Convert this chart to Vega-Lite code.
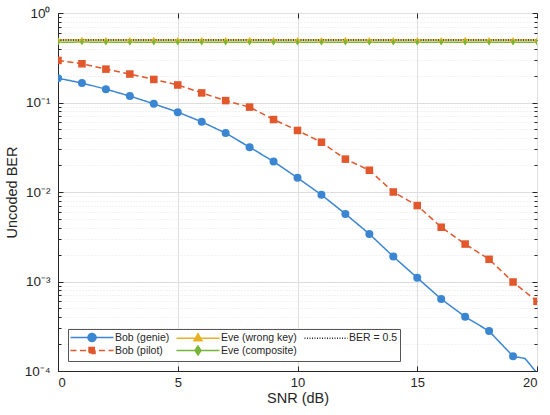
{
  "$schema": "https://vega.github.io/schema/vega-lite/v6.json",
  "width": 479,
  "height": 358,
  "autosize": "none",
  "padding": {"left": 58, "top": 13, "right": 13, "bottom": 44},
  "data": {
    "values": [
      {"snr": 0, "ber": 0.187, "series": "Bob (genie)"},
      {"snr": 1, "ber": 0.165, "series": "Bob (genie)"},
      {"snr": 2, "ber": 0.141, "series": "Bob (genie)"},
      {"snr": 3, "ber": 0.118, "series": "Bob (genie)"},
      {"snr": 4, "ber": 0.0967, "series": "Bob (genie)"},
      {"snr": 5, "ber": 0.078, "series": "Bob (genie)"},
      {"snr": 6, "ber": 0.0608, "series": "Bob (genie)"},
      {"snr": 7, "ber": 0.0455, "series": "Bob (genie)"},
      {"snr": 8, "ber": 0.0317, "series": "Bob (genie)"},
      {"snr": 9, "ber": 0.0219, "series": "Bob (genie)"},
      {"snr": 10, "ber": 0.0144, "series": "Bob (genie)"},
      {"snr": 11, "ber": 0.0093, "series": "Bob (genie)"},
      {"snr": 12, "ber": 0.00569, "series": "Bob (genie)"},
      {"snr": 13, "ber": 0.0034, "series": "Bob (genie)"},
      {"snr": 14, "ber": 0.0019, "series": "Bob (genie)"},
      {"snr": 15, "ber": 0.0011, "series": "Bob (genie)"},
      {"snr": 16, "ber": 0.000637, "series": "Bob (genie)"},
      {"snr": 17, "ber": 0.000404, "series": "Bob (genie)"},
      {"snr": 18, "ber": 0.000279, "series": "Bob (genie)"},
      {"snr": 19, "ber": 0.000146, "series": "Bob (genie)"},
      {"snr": 19.5, "ber": 0.000138, "series": "Bob (genie)"},
      {"snr": 20, "ber": 0.000095, "series": "Bob (genie)"},
      {"snr": 0, "ber": 0.295, "series": "Bob (pilot)"},
      {"snr": 1, "ber": 0.271, "series": "Bob (pilot)"},
      {"snr": 2, "ber": 0.236, "series": "Bob (pilot)"},
      {"snr": 3, "ber": 0.208, "series": "Bob (pilot)"},
      {"snr": 4, "ber": 0.181, "series": "Bob (pilot)"},
      {"snr": 5, "ber": 0.157, "series": "Bob (pilot)"},
      {"snr": 6, "ber": 0.128, "series": "Bob (pilot)"},
      {"snr": 7, "ber": 0.105, "series": "Bob (pilot)"},
      {"snr": 8, "ber": 0.0888, "series": "Bob (pilot)"},
      {"snr": 9, "ber": 0.0645, "series": "Bob (pilot)"},
      {"snr": 10, "ber": 0.0487, "series": "Bob (pilot)"},
      {"snr": 11, "ber": 0.036, "series": "Bob (pilot)"},
      {"snr": 12, "ber": 0.0233, "series": "Bob (pilot)"},
      {"snr": 13, "ber": 0.0175, "series": "Bob (pilot)"},
      {"snr": 14, "ber": 0.01, "series": "Bob (pilot)"},
      {"snr": 15, "ber": 0.00705, "series": "Bob (pilot)"},
      {"snr": 16, "ber": 0.00404, "series": "Bob (pilot)"},
      {"snr": 17, "ber": 0.00262, "series": "Bob (pilot)"},
      {"snr": 18, "ber": 0.00177, "series": "Bob (pilot)"},
      {"snr": 19, "ber": 0.000987, "series": "Bob (pilot)"},
      {"snr": 20, "ber": 0.0006, "series": "Bob (pilot)"},
      {"snr": 0, "ber": 0.499, "series": "Eve (wrong key)"},
      {"snr": 1, "ber": 0.501, "series": "Eve (wrong key)"},
      {"snr": 2, "ber": 0.5, "series": "Eve (wrong key)"},
      {"snr": 3, "ber": 0.499, "series": "Eve (wrong key)"},
      {"snr": 4, "ber": 0.501, "series": "Eve (wrong key)"},
      {"snr": 5, "ber": 0.5, "series": "Eve (wrong key)"},
      {"snr": 6, "ber": 0.499, "series": "Eve (wrong key)"},
      {"snr": 7, "ber": 0.5, "series": "Eve (wrong key)"},
      {"snr": 8, "ber": 0.501, "series": "Eve (wrong key)"},
      {"snr": 9, "ber": 0.499, "series": "Eve (wrong key)"},
      {"snr": 10, "ber": 0.5, "series": "Eve (wrong key)"},
      {"snr": 11, "ber": 0.5, "series": "Eve (wrong key)"},
      {"snr": 12, "ber": 0.501, "series": "Eve (wrong key)"},
      {"snr": 13, "ber": 0.499, "series": "Eve (wrong key)"},
      {"snr": 14, "ber": 0.5, "series": "Eve (wrong key)"},
      {"snr": 15, "ber": 0.5, "series": "Eve (wrong key)"},
      {"snr": 16, "ber": 0.499, "series": "Eve (wrong key)"},
      {"snr": 17, "ber": 0.501, "series": "Eve (wrong key)"},
      {"snr": 18, "ber": 0.5, "series": "Eve (wrong key)"},
      {"snr": 19, "ber": 0.5, "series": "Eve (wrong key)"},
      {"snr": 20, "ber": 0.499, "series": "Eve (wrong key)"},
      {"snr": 0, "ber": 0.472, "series": "Eve (composite)"},
      {"snr": 1, "ber": 0.473, "series": "Eve (composite)"},
      {"snr": 2, "ber": 0.472, "series": "Eve (composite)"},
      {"snr": 3, "ber": 0.471, "series": "Eve (composite)"},
      {"snr": 4, "ber": 0.472, "series": "Eve (composite)"},
      {"snr": 5, "ber": 0.471, "series": "Eve (composite)"},
      {"snr": 6, "ber": 0.472, "series": "Eve (composite)"},
      {"snr": 7, "ber": 0.472, "series": "Eve (composite)"},
      {"snr": 8, "ber": 0.471, "series": "Eve (composite)"},
      {"snr": 9, "ber": 0.472, "series": "Eve (composite)"},
      {"snr": 10, "ber": 0.472, "series": "Eve (composite)"},
      {"snr": 11, "ber": 0.471, "series": "Eve (composite)"},
      {"snr": 12, "ber": 0.472, "series": "Eve (composite)"},
      {"snr": 13, "ber": 0.472, "series": "Eve (composite)"},
      {"snr": 14, "ber": 0.471, "series": "Eve (composite)"},
      {"snr": 15, "ber": 0.472, "series": "Eve (composite)"},
      {"snr": 16, "ber": 0.472, "series": "Eve (composite)"},
      {"snr": 17, "ber": 0.471, "series": "Eve (composite)"},
      {"snr": 18, "ber": 0.472, "series": "Eve (composite)"},
      {"snr": 19, "ber": 0.472, "series": "Eve (composite)"},
      {"snr": 20, "ber": 0.471, "series": "Eve (composite)"},
      {"snr": 0, "ber": 0.5, "series": "BER = 0.5"},
      {"snr": 20, "ber": 0.5, "series": "BER = 0.5"}
    ]
  },
  "layer": [
    {
      "mark": {"type": "line", "strokeWidth": 1.5, "clip": true},
      "encoding": {
        "x": {
          "field": "snr", "type": "quantitative",
          "scale": {"domain": [0, 20], "nice": false, "zero": false},
          "axis": {
            "orient": "bottom", "title": "SNR (dB)", "values": [0, 5, 10, 15, 20],
            "grid": true, "gridColor": "#dedede", "tickSize": -5, "labelPadding": 10,
            "titlePadding": 2, "domain": true
          }
        },
        "y": {
          "field": "ber", "type": "quantitative",
          "scale": {"type": "log", "domain": [0.0001, 1], "nice": false},
          "axis": {
            "orient": "left", "title": "Uncoded BER",
            "values": [0.0001, 0.0002, 0.0003, 0.0004, 0.0005, 0.0006, 0.0007, 0.0008, 0.0009,
                       0.001, 0.002, 0.003, 0.004, 0.005, 0.006, 0.007, 0.008, 0.009,
                       0.01, 0.02, 0.03, 0.04, 0.05, 0.06, 0.07, 0.08, 0.09,
                       0.1, 0.2, 0.3, 0.4, 0.5, 0.6, 0.7, 0.8, 0.9, 1],
            "labelExpr": "abs(log(datum.value)/LN10 - round(log(datum.value)/LN10)) > 0.001 ? '' : ['10⁻⁴','10⁻³','10⁻²','10⁻¹','10⁰'][round(log(datum.value)/LN10) + 4]",
            "labelOverlap": false, "labelPadding": 13, "labelFontSize": 13.5,
            "grid": true,
            "gridColor": {"condition": {"test": "abs(log(datum.value)/LN10 - round(log(datum.value)/LN10)) > 0.001", "value": "#e4e4e4"}, "value": "#dedede"},
            "gridDash": {"condition": {"test": "abs(log(datum.value)/LN10 - round(log(datum.value)/LN10)) > 0.001", "value": [1, 2]}, "value": []},
            "tickSize": {"condition": {"test": "abs(log(datum.value)/LN10 - round(log(datum.value)/LN10)) > 0.001", "value": -3}, "value": -5},
            "titlePadding": 5
          }
        },
        "color": {
          "field": "series", "type": "nominal",
          "scale": {
            "domain": ["Bob (genie)", "Bob (pilot)", "Eve (wrong key)", "Eve (composite)", "BER = 0.5"],
            "range": ["#3b86d3", "#e2572b", "#e6b224", "#77b53a", "#262626"]
          },
          "legend": {
            "title": null, "orient": "bottom-left", "offset": 10, "columns": 3,
            "gridAlign": "each",
            "columnPadding": 4, "rowPadding": -5, "padding": 2.5,
            "symbolSize": 100, "symbolOffset": 15.5, "labelOffset": 17,
            "labelFontSize": 10.5, "labelColor": "#262626", "labelLimit": 200,
            "fillColor": "white", "strokeColor": "#555555",
            "encode": {
              "symbols": {
                "update": {
                  "shape": {"signal": "datum.value == 'Bob (genie)' ? 'M-4.3,0H4.3M0.8,0A0.8,0.8,0,1,1,-0.8,0A0.8,0.8,0,1,1,0.8,0Z' : datum.value == 'Bob (pilot)' ? 'M-4.3,0H4.3M-0.6,-0.6H0.6V0.6H-0.6Z' : datum.value == 'Eve (wrong key)' ? 'M-4.3,0H4.3M0,-0.9L0.8,0.5H-0.8Z' : datum.value == 'Eve (composite)' ? 'M-4.3,0H4.3M0,-0.9L0.6,0L0,0.9L-0.6,0Z' : 'M-4.3,0H4.3'"},
                  "strokeDash": {"signal": "datum.value == 'Bob (pilot)' ? [6, 3.5] : datum.value == 'BER = 0.5' ? [1, 1.5] : []"},
                  "fill": {"signal": "datum.value == 'BER = 0.5' ? 'transparent' : scale('color', datum.value)"},
                  "stroke": {"signal": "scale('color', datum.value)"},
                  "strokeWidth": {"value": 1.5},
                  "opacity": {"value": 1}
                }
              }
            }
          }
        },
        "strokeDash": {
          "field": "series", "type": "nominal",
          "scale": {
            "domain": ["Bob (genie)", "Bob (pilot)", "Eve (wrong key)", "Eve (composite)", "BER = 0.5"],
            "range": [[1, 0], [6, 3.5], [1, 0], [1, 0], [1, 1.5]]
          },
          "legend": null
        }
      }
    },
    {
      "transform": [
        {"filter": "datum.series != 'BER = 0.5' && datum.snr % 1 == 0 && datum.ber >= 0.0001"}
      ],
      "mark": {"type": "point", "filled": true, "opacity": 1, "clip": true},
      "encoding": {
        "x": {
          "field": "snr", "type": "quantitative",
          "axis": {"orient": "top", "title": null, "labels": false, "grid": false, "values": [0, 5, 10, 15, 20], "tickSize": -5, "domain": false}
        },
        "y": {
          "field": "ber", "type": "quantitative",
          "axis": {
            "orient": "right", "title": null, "labels": false, "grid": false, "domain": false,
            "values": [0.0001, 0.0002, 0.0003, 0.0004, 0.0005, 0.0006, 0.0007, 0.0008, 0.0009,
                       0.001, 0.002, 0.003, 0.004, 0.005, 0.006, 0.007, 0.008, 0.009,
                       0.01, 0.02, 0.03, 0.04, 0.05, 0.06, 0.07, 0.08, 0.09,
                       0.1, 0.2, 0.3, 0.4, 0.5, 0.6, 0.7, 0.8, 0.9, 1],
            "tickSize": {"condition": {"test": "abs(log(datum.value)/LN10 - round(log(datum.value)/LN10)) > 0.001", "value": -3}, "value": -5}
          }
        },
        "color": {"field": "series", "type": "nominal"},
        "shape": {
          "field": "series", "type": "nominal",
          "scale": {
            "domain": ["Bob (genie)", "Bob (pilot)", "Eve (wrong key)", "Eve (composite)"],
            "range": ["circle", "square", "triangle-up", "M0,-1L0.65,0L0,1L-0.65,0Z"]
          },
          "legend": null
        },
        "size": {
          "field": "series", "type": "nominal",
          "scale": {
            "domain": ["Bob (genie)", "Bob (pilot)", "Eve (wrong key)", "Eve (composite)"],
            "range": [64, 42, 55, 85]
          },
          "legend": null
        }
      }
    }
  ],
  "resolve": {"axis": {"x": "independent", "y": "independent"}},
  "config": {
    "font": "Liberation Sans",
    "view": {"stroke": "#262626", "strokeWidth": 1},
    "axis": {
      "labelColor": "#262626", "titleColor": "#262626", "domainColor": "#262626",
      "tickColor": "#262626", "labelFontSize": 13, "titleFontSize": 14.5,
      "titleFontWeight": "normal", "labelFont": "Liberation Sans", "titleFont": "Liberation Sans"
    },
    "legend": {"labelFont": "Liberation Sans"}
  }
}
